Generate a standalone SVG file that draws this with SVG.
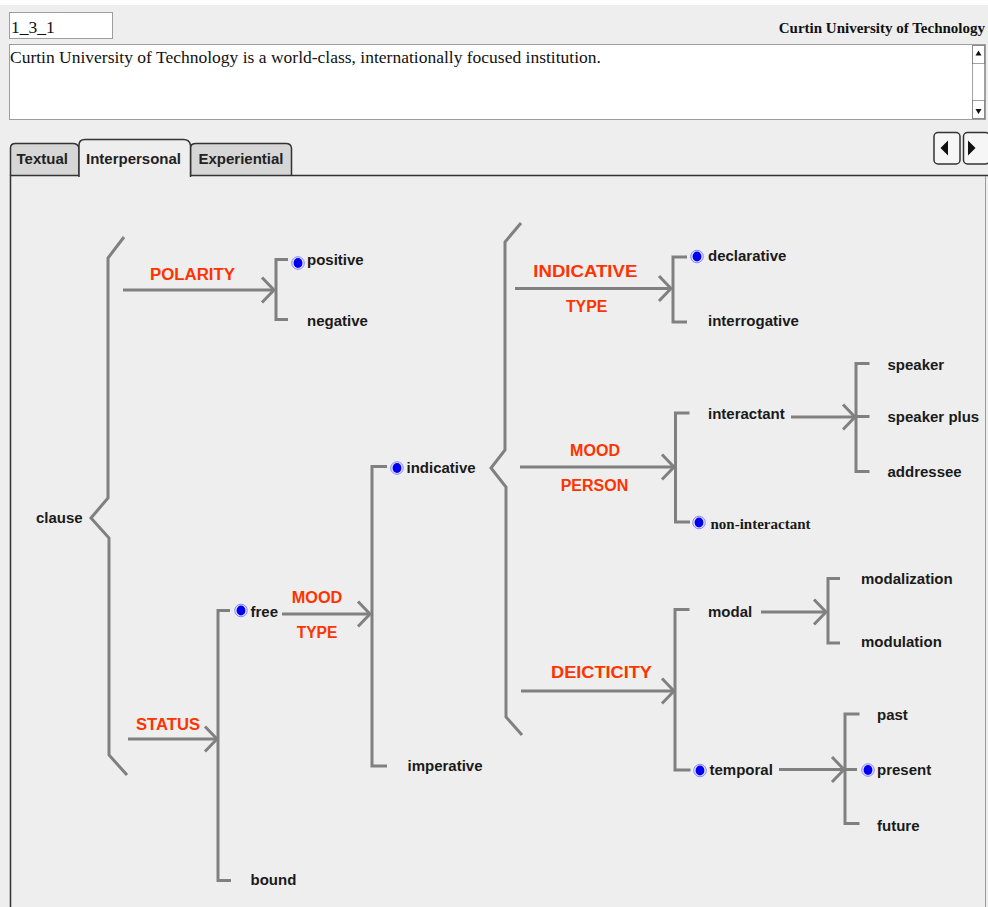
<svg xmlns="http://www.w3.org/2000/svg" xmlns:xlink="http://www.w3.org/1999/xlink" width="988" height="907" viewBox="0 0 988 907">
<style>
.ln{fill:none;stroke:#808080;stroke-width:3;stroke-linejoin:miter;stroke-linecap:butt}
.lb{font-family:"Liberation Sans",Arial,sans-serif;font-weight:bold;font-size:15px;fill:#1a1a1a}
.lbs{font-family:"Liberation Serif","Times New Roman",serif;font-weight:bold;font-size:15px;fill:#1a1a1a}
.rd{font-family:"Liberation Sans",Arial,sans-serif;font-weight:bold;font-size:16px;fill:#ff3300;text-anchor:middle}
.tab{font-family:"Liberation Sans",Arial,sans-serif;font-weight:bold;font-size:15px;fill:#222}
.dot{fill:#fff;stroke:#444;stroke-width:1;stroke-dasharray:1 1}
.ser{font-family:"Liberation Serif","Times New Roman",serif;font-size:17.5px;fill:#111}
</style>
<defs>
<marker id="ah" markerUnits="userSpaceOnUse" viewBox="-14 -15 16 30" refX="0" refY="0" markerWidth="16" markerHeight="30" orient="auto" overflow="visible">
<path d="M-12,-12.5 L0,0 L-12,12.5" fill="none" stroke="#808080" stroke-width="3"/>
</marker>
<g id="radio">
<circle r="6.3" fill="#dedeff" stroke="#8a8aff" stroke-width="1"/>
<ellipse rx="4.4" ry="5" fill="#0000f0"/>
</g>
</defs>

<rect x="0" y="0" width="988" height="907" fill="#ffffff"/>
<rect x="0" y="5" width="988" height="902" fill="#eeeeee"/>

<g id="header">
<rect class="dot" x="9.5" y="12.5" width="103" height="26"/>
<text class="ser" x="11" y="33">1_3_1</text>
<text x="985" y="32.5" text-anchor="end" style="font-family:'Liberation Serif','Times New Roman',serif;font-weight:bold;font-size:15px;fill:#111">Curtin University of Technology</text>
<rect class="dot" x="9.5" y="44.5" width="976" height="75"/>
<text class="ser" x="10" y="63">Curtin University of Technology is a world-class, internationally focused institution.</text>
<rect class="dot" x="972.5" y="45.5" width="12" height="73"/>
<rect class="dot" x="972.5" y="45.5" width="12" height="18"/>
<rect class="dot" x="972.5" y="100.5" width="12" height="18"/>
<polygon points="978.5,50.5 975.5,55.5 981.5,55.5" fill="#111"/>
<polygon points="978.5,114 975.5,109 981.5,109" fill="#111"/>
</g>

<g id="tabs">
<path d="M10.5,175.5 V148 Q10.5,143.5 15.5,143.5 H73 Q78,143.5 79,148 V175.5" fill="#d6d6d6" stroke="#333" stroke-width="1.5"/>
<path d="M190.5,175.5 V148 Q190.5,143.5 196,143.5 H286 Q291,143.5 291.5,148 V175.5" fill="#d6d6d6" stroke="#333" stroke-width="1.5"/>
<path d="M10.5,175.5 H79" fill="none" stroke="#333" stroke-width="1.5"/>
<path d="M79,177 V145 Q79,139.5 85,139.5 H183.5 Q189.5,139.5 190.5,145 V177" fill="#eeeeee" stroke="#333" stroke-width="1.5"/>
<text class="tab" x="16.5" y="163.5">Textual</text>
<text class="tab" x="86" y="163.5">Interpersonal</text>
<text class="tab" x="198.5" y="163.5">Experiential</text>
<path d="M190.5,175.5 H988" fill="none" stroke="#333" stroke-width="1.5"/>
<path d="M10.5,175 V907" fill="none" stroke="#333" stroke-width="1.5"/>
<path d="M985.5,176 V907" fill="none" stroke="#999" stroke-width="1"/>
</g>

<g id="nav">
<rect x="934" y="132.5" width="26" height="31.5" rx="4" fill="#f6f6f6" stroke="#333" stroke-width="1.5"/>
<polygon points="940.5,148 948,140.5 948,155.5" fill="#111"/>
<rect x="963.5" y="132.5" width="26" height="31.5" rx="4" fill="#f6f6f6" stroke="#333" stroke-width="1.5"/>
<polygon points="975.5,148 968,140.5 968,155.5" fill="#111"/>
</g>

<g id="connectors">
<path class="ln" d="M124,237 L108,258 V498 L91,518 L109,538 V755 L127,775"/>
<path class="ln" d="M521,223 L505,242 V450 L491,468 L506,487 V717 L522,735"/>
<path class="ln" d="M288,259.5 H276 V319.5 H288"/>
<path class="ln" d="M230,610.5 H218 V880.5 H231"/>
<path class="ln" d="M387,466.5 H372 V766 H387"/>
<path class="ln" d="M687,257 H673 V322 H687"/>
<path class="ln" d="M689.5,413 H675.5 V522 H690"/>
<path class="ln" d="M869.5,363.5 H856 V471.5 H869.5 M856,416.5 H869.5"/>
<path class="ln" d="M689.5,609.5 H675 V770 H690.5"/>
<path class="ln" d="M840,578.5 H828 V643 H840"/>
<path class="ln" d="M859.5,714 H845 V823.5 H859.5 M845,769.5 H857"/>
<path class="ln" marker-end="url(#ah)" d="M123,290 H274"/>
<path class="ln" marker-end="url(#ah)" d="M128,739 H217"/>
<path class="ln" marker-end="url(#ah)" d="M282,614 H370"/>
<path class="ln" marker-end="url(#ah)" d="M515,288.5 H671"/>
<path class="ln" marker-end="url(#ah)" d="M520,467 H674"/>
<path class="ln" marker-end="url(#ah)" d="M521,691 H674"/>
<path class="ln" marker-end="url(#ah)" d="M791,417 H855"/>
<path class="ln" marker-end="url(#ah)" d="M761,612 H826"/>
<path class="ln" marker-end="url(#ah)" d="M779,769.5 H844"/>
<text class="rd" x="192.5" y="279.5" textLength="85" lengthAdjust="spacingAndGlyphs">POLARITY</text>
<text class="rd" x="168" y="730" textLength="64" lengthAdjust="spacingAndGlyphs">STATUS</text>
<text class="rd" x="317" y="603" textLength="50.6" lengthAdjust="spacingAndGlyphs">MOOD</text>
<text class="rd" x="317" y="638" textLength="40.6" lengthAdjust="spacingAndGlyphs">TYPE</text>
<text class="rd" x="585.3" y="276.7" textLength="104" lengthAdjust="spacingAndGlyphs">INDICATIVE</text>
<text class="rd" x="586.6" y="311.7" textLength="41.3" lengthAdjust="spacingAndGlyphs">TYPE</text>
<text class="rd" x="595" y="455.7" textLength="50" lengthAdjust="spacingAndGlyphs">MOOD</text>
<text class="rd" x="594.5" y="490.7" textLength="67.6" lengthAdjust="spacingAndGlyphs">PERSON</text>
<text class="rd" x="601.5" y="677.5" textLength="101" lengthAdjust="spacingAndGlyphs">DEICTICITY</text>
</g>

<g id="node-clause"><text class="lb" x="36" y="523">clause</text></g>
<g id="node-positive"><use xlink:href="#radio" x="298" y="263"/><text class="lb" x="307" y="265">positive</text></g>
<g id="node-negative"><text class="lb" x="307" y="326">negative</text></g>
<g id="node-free"><use xlink:href="#radio" x="241" y="610.5"/><text class="lb" x="250.5" y="616.5">free</text></g>
<g id="node-bound"><text class="lb" x="250.5" y="885">bound</text></g>
<g id="node-indicative"><use xlink:href="#radio" x="397" y="468"/><text class="lb" x="406.5" y="472.5">indicative</text></g>
<g id="node-imperative"><text class="lb" x="407.5" y="771">imperative</text></g>
<g id="node-declarative"><use xlink:href="#radio" x="697" y="256.5"/><text class="lb" x="708" y="260.5">declarative</text></g>
<g id="node-interrogative"><text class="lb" x="708" y="325.5">interrogative</text></g>
<g id="node-interactant"><text class="lb" x="708" y="419">interactant</text></g>
<g id="node-non-interactant"><use xlink:href="#radio" x="699" y="522.5"/><text class="lbs" x="710.5" y="529">non-interactant</text></g>
<g id="node-speaker"><text class="lb" x="887.5" y="370">speaker</text></g>
<g id="node-speaker-plus"><text class="lb" x="887.5" y="421.5">speaker plus</text></g>
<g id="node-addressee"><text class="lb" x="887.5" y="476.5">addressee</text></g>
<g id="node-modal"><text class="lb" x="708" y="616.5">modal</text></g>
<g id="node-temporal"><use xlink:href="#radio" x="700" y="770.5"/><text class="lb" x="709.5" y="775">temporal</text></g>
<g id="node-modalization"><text class="lb" x="861" y="583.5">modalization</text></g>
<g id="node-modulation"><text class="lb" x="861" y="647">modulation</text></g>
<g id="node-past"><text class="lb" x="877" y="720">past</text></g>
<g id="node-present"><use xlink:href="#radio" x="868" y="770"/><text class="lb" x="877" y="775">present</text></g>
<g id="node-future"><text class="lb" x="877" y="831">future</text></g>
</svg>
